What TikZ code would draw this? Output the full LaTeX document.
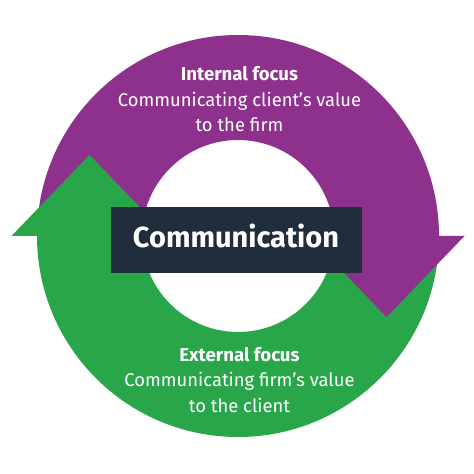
\documentclass[tikz,border=0pt]{standalone}
\usepackage{fontspec}
\setmainfont{Fira Sans}
\definecolor{cpurple}{RGB}{141,49,141}
\definecolor{cgreen}{RGB}{42,166,74}
\definecolor{cnavy}{RGB}{31,45,61}
\begin{document}
\begin{tikzpicture}[x=1pt,y=1pt,
  headtxt/.style={text=white,font=\fontsize{18.6}{22}\selectfont\bfseries,anchor=base,inner sep=0pt},
  bodytxt/.style={text=white,font=\fontsize{18.4}{22}\selectfont,anchor=base,inner sep=0pt},
  centerbox/.style={fill=cnavy,minimum width=251pt,minimum height=66pt,inner sep=0pt}]
\useasboundingbox (0,0) rectangle (474,474);
\fill[white] (0,0) rectangle (474,474);
% ring halves
\fill[cpurple] (439,238) arc[start angle=0,end angle=180,radius=201] -- (142,238)
  arc[start angle=180,end angle=0,radius=96] -- cycle;
\fill[cgreen] (439,238) arc[start angle=0,end angle=-180,radius=201] -- (142,238)
  arc[start angle=180,end angle=360,radius=96] -- cycle;
% arrow heads
\fill[cpurple] (308.5,238) -- (464.5,238) -- (386.5,157) -- cycle;
\fill[cgreen] (11.5,238) -- (167.5,238) -- (89.5,319) -- cycle;
% center box
\node[centerbox] (box) at (236.5,234) {};
\node[text=white,font=\fontsize{29}{34}\selectfont\bfseries,anchor=base,inner sep=0pt] (comm) at (236,226) {Communication};
% texts
\node[headtxt] (int) at (239.5,393) {Internal focus};
\node[bodytxt] (int2) at (239.5,367) {Communicating client’s value};
\node[bodytxt] (int3) at (239.5,342) {to the firm};
\node[headtxt] (ext) at (239.5,112) {External focus};
\node[bodytxt] (ext2) at (239.5,87) {Communicating firm’s value};
\node[bodytxt] (ext3) at (239.5,61) {to the client};
\end{tikzpicture}
\end{document}
